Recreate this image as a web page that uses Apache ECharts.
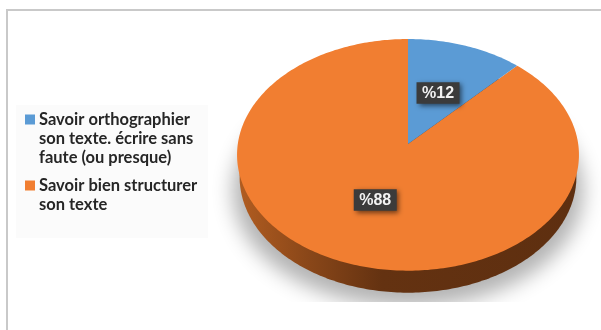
<!DOCTYPE html>
<html>
<head>
<meta charset="utf-8">
<style>html,body{margin:0;padding:0;background:#fff}#chart{width:601px;height:330px}</style>
<script src="https://cdn.jsdelivr.net/npm/echarts@6/dist/echarts.min.js"></script>
</head>
<body>
<div id="chart"></div>
<script>
// Share of each answer, in percent
const categories = [
  'Savoir orthographier\nson texte. écrire sans\nfaute (ou presque)',
  'Savoir bien structurer\nson texte'
];
const values = [12, 88];
const colors = ['#5b9bd5', '#f17e31'];
const labels = ['%12', '%88'];

// Tilted disc: a point of the unit disc is projected with a slight perspective
const DISC = { cx: 408, cy: 144, a: 170.2, b: 114.8, k: 0.0937 };
const DEPTH = { dy: 22, sx: 0.985 };
const OFFSTAGE = 1200;
const total = values.reduce((s, v) => s + v, 0);

function project(theta, r, dy, sx) {
  const u = Math.sin(theta) * r;
  const v = -Math.cos(theta) * r;
  const w = 1 - DISC.k * v;
  return [DISC.cx + (sx || 1) * DISC.a * u / w, DISC.cy + (dy || 0) + DISC.b * v / w];
}
function arc(t0, t1, dy, sx) {
  const n = Math.max(2, Math.ceil(Math.abs(t1 - t0) * 60));
  const pts = [];
  for (let i = 0; i <= n; i++) pts.push(project(t0 + (t1 - t0) * i / n, 1, dy, sx));
  return pts;
}

function sliceItem(index) {
  return function (params, api) {
    const before = values.slice(0, index).reduce((s, v) => s + v, 0);
    const t0 = before / total * Math.PI * 2;
    const t1 = (before + api.value(0)) / total * Math.PI * 2;
    const children = [];
    if (t1 - t0 > Math.PI) {
      // Soft shadow on the page: the caster sits off the canvas so only its
      // blur lands here, cut off along a straight lower edge
      children.push({
        type: 'group',
        clipPath: { type: 'rect', shape: { x: 200, y: 90, width: 401, height: 212 } },
        children: [{
          type: 'polygon',
          shape: { points: arc(0, Math.PI * 2, 36, 1.025).map(p => [p[0] - OFFSTAGE, p[1]]) },
          style: { fill: '#000', shadowBlur: 20, shadowColor: 'rgba(0,0,0,0.3)', shadowOffsetX: OFFSTAGE }
        }]
      });
      // Rim of the disc
      children.push({
        type: 'polygon',
        shape: { points: arc(0, Math.PI * 2, DEPTH.dy, DEPTH.sx) },
        style: {
          fill: new echarts.graphic.LinearGradient(240, 0, 578, 0, [
            { offset: 0, color: '#b05c20' },
            { offset: 0.2, color: '#8a4719' },
            { offset: 0.42, color: '#643211' },
            { offset: 1, color: '#5e2f10' }
          ], true)
        }
      });
    }
    children.push({
      type: 'polygon',
      shape: { points: [project(0, 0)].concat(arc(t0, t1)) },
      style: { fill: api.visual('color') }
    });
    const mid = project((t0 + t1) / 2, 0.5);
    children.push({
      type: 'rect',
      shape: { x: mid[0] - 21.5, y: mid[1] - 10.5, width: 43, height: 21.5 },
      style: { fill: '#3b3b3b', shadowBlur: 5, shadowColor: 'rgba(0,0,0,0.55)', shadowOffsetX: 2, shadowOffsetY: 2 }
    });
    children.push({
      type: 'text',
      x: mid[0],
      y: mid[1] + 0.5,
      style: {
        text: labels[index],
        fill: '#f2f2f2',
        font: 'bold 16px "Liberation Sans"',
        align: 'center',
        verticalAlign: 'middle'
      }
    });
    return { type: 'group', children };
  };
}

const chart = echarts.init(document.getElementById('chart'), null, { renderer: 'canvas' });
chart.setOption({
  animation: false,
  backgroundColor: '#ffffff',
  graphic: [
    { type: 'rect', z: -10, shape: { x: 6, y: 9, width: 595, height: 2 }, style: { fill: '#c9c9c9' } },
    { type: 'rect', z: -10, shape: { x: 6, y: 9, width: 2, height: 321 }, style: { fill: '#c9c9c9' } },
    { type: 'rect', z: -10, shape: { x: 16, y: 105, width: 192, height: 133 }, style: { fill: '#fbfbfb' } }
  ],
  legend: {
    orient: 'vertical',
    left: 25,
    top: 72,
    padding: 0,
    selectedMode: false,
    itemWidth: 10,
    itemHeight: 10,
    itemGap: -10,
    icon: 'rect',
    // Blank lines keep each swatch level with the first line of its entry
    formatter: function (name) {
      const n = name.split('\n').length;
      return '\n'.repeat(n - 1) + name;
    },
    textStyle: {
      fontFamily: 'Lato',
      fontWeight: 'bold',
      fontSize: 16.5,
      lineHeight: 19,
      color: '#262626',
      padding: [0, 0, 0, -1]
    }
  },
  series: [
    { type: 'custom', name: categories[0], coordinateSystem: 'none', z: 3, silent: true,
      itemStyle: { color: colors[0] }, data: [values[0]], renderItem: sliceItem(0) },
    { type: 'custom', name: categories[1], coordinateSystem: 'none', z: 2, silent: true,
      itemStyle: { color: colors[1] }, data: [values[1]], renderItem: sliceItem(1) }
  ]
});
</script>
</body>
</html>
